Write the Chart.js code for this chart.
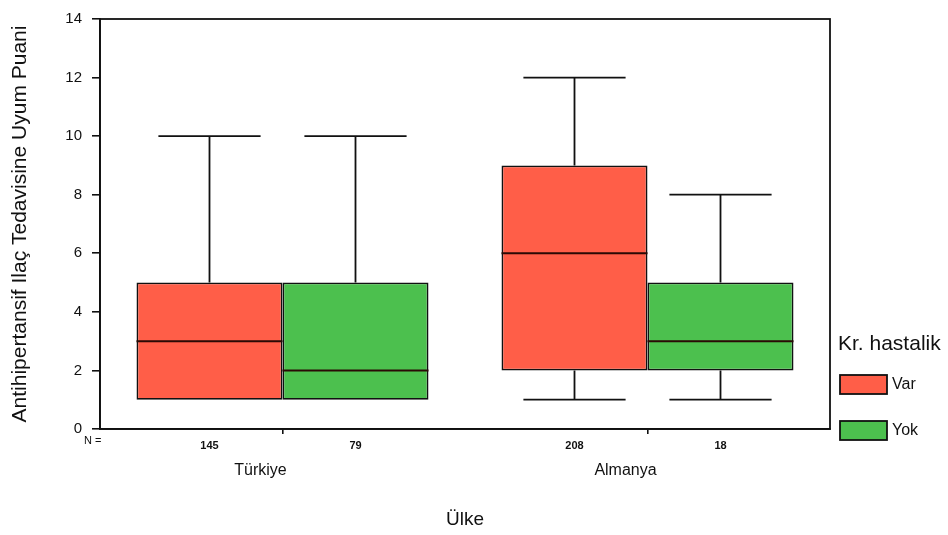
<!DOCTYPE html>
<html>
<head>
<meta charset="utf-8">
<script src="https://cdn.jsdelivr.net/npm/chart.js@4.4.1/dist/chart.umd.min.js"></script>
<style>
  html, body { margin: 0; padding: 0; background: #ffffff; }
  #wrap { width: 948px; height: 535px; }
</style>
</head>
<body>
<div id="wrap"><canvas id="c" width="948" height="535"></canvas></div>
<script>
// ---- data ----
const categories = ['Türkiye', 'Almanya'];
const seriesNames = ['Var', 'Yok'];
const varMin = [1, 1];
const varQ1  = [1, 2];
const varMed = [3, 6];
const varQ3  = [5, 9];
const varMax = [10, 12];
const yokMin = [1, 1];
const yokQ1  = [1, 2];
const yokMed = [2, 3];
const yokQ3  = [5, 5];
const yokMax = [10, 8];
const varN = [145, 208];
const yokN = [79, 18];
const yTicks = [0, 2, 4, 6, 8, 10, 12, 14];

const FONT = '"Liberation Sans", Arial, sans-serif';
const NARROW = '"Liberation Sans Narrow", "Liberation Sans", Arial, sans-serif';

const stats = [
  { min: varMin, q1: varQ1, med: varMed, q3: varQ3, max: varMax, n: varN },
  { min: yokMin, q1: yokQ1, med: yokMed, q3: yokQ3, max: yokMax, n: yokN }
];

const boxPlugin = {
  id: 'boxExtras',
  afterDatasetsDraw(chart) {
    const ctx = chart.ctx;
    const y = chart.scales.y;
    const area = chart.chartArea;
    ctx.save();
    stats.forEach((s, i) => {
      const meta = chart.getDatasetMeta(i);
      meta.data.forEach((el, j) => {
        const x = el.x, w = el.width;
        const cap = w * 0.7;
        ctx.strokeStyle = '#111';
        // whiskers
        ctx.lineWidth = 1.8;
        ctx.beginPath();
        ctx.moveTo(x, y.getPixelForValue(s.q3[j]));
        ctx.lineTo(x, y.getPixelForValue(s.max[j]));
        ctx.moveTo(x - cap / 2, y.getPixelForValue(s.max[j]));
        ctx.lineTo(x + cap / 2, y.getPixelForValue(s.max[j]));
        if (s.min[j] < s.q1[j]) {
          ctx.moveTo(x, y.getPixelForValue(s.q1[j]));
          ctx.lineTo(x, y.getPixelForValue(s.min[j]));
          ctx.moveTo(x - cap / 2, y.getPixelForValue(s.min[j]));
          ctx.lineTo(x + cap / 2, y.getPixelForValue(s.min[j]));
        }
        ctx.stroke();
        // median
        ctx.lineWidth = 2;
        ctx.strokeStyle = '#2a0a05';
        ctx.beginPath();
        ctx.moveTo(x - w / 2, y.getPixelForValue(s.med[j]));
        ctx.lineTo(x + w / 2, y.getPixelForValue(s.med[j]));
        ctx.stroke();
        // N labels
        ctx.fillStyle = '#111';
        ctx.font = 'bold 11px ' + NARROW;
        ctx.textAlign = 'center';
        ctx.textBaseline = 'middle';
        ctx.fillText(String(s.n[j]), x, area.bottom + 17);
      });
    });
    ctx.font = '11px ' + NARROW;
    ctx.textAlign = 'left';
    ctx.textBaseline = 'middle';
    ctx.fillStyle = '#111';
    ctx.fillText('N =', area.left - 16, area.bottom + 12);
    // frame
    ctx.strokeStyle = '#111';
    ctx.lineWidth = 1.8;
    ctx.strokeRect(area.left, area.top, area.right - area.left, area.bottom - area.top);
    // legend
    const lx = area.right + 10;
    ctx.fillStyle = '#111';
    ctx.font = '21px ' + FONT;
    ctx.textAlign = 'left';
    ctx.textBaseline = 'alphabetic';
    ctx.fillText('Kr. hastalik', lx - 2, area.top + 331);
    chart.data.datasets.forEach((ds, i) => {
      const by = area.top + 356 + i * 46;
      ctx.fillStyle = ds.backgroundColor;
      ctx.fillRect(lx, by, 47, 19);
      ctx.lineWidth = 1.8;
      ctx.strokeStyle = '#111';
      ctx.strokeRect(lx, by, 47, 19);
      ctx.fillStyle = '#111';
      ctx.font = '16px ' + FONT;
      ctx.textBaseline = 'middle';
      ctx.fillText(ds.label, lx + 52, by + 10);
      ctx.textBaseline = 'alphabetic';
    });
    ctx.restore();
  }
};

const chart = new Chart(document.getElementById('c'), {
  type: 'bar',
  data: {
    labels: categories,
    datasets: [
      {
        label: seriesNames[0],
        data: categories.map((c, j) => [varQ1[j], varQ3[j]]),
        backgroundColor: '#FF5E48',
        borderColor: '#111',
        borderWidth: 1.8,
        borderSkipped: false
      },
      {
        label: seriesNames[1],
        data: categories.map((c, j) => [yokQ1[j], yokQ3[j]]),
        backgroundColor: '#4CC04E',
        borderColor: '#111',
        borderWidth: 1.8,
        borderSkipped: false
      }
    ]
  },
  options: {
    responsive: false,
    animation: false,
    devicePixelRatio: 1,
    layout: { padding: { left: 0, right: 118, top: 16, bottom: 0 } },
    datasets: { bar: { categoryPercentage: 0.8, barPercentage: 1.0 } },
    plugins: {
      legend: { display: false },
      tooltip: { enabled: false },
      title: { display: false }
    },
    scales: {
      x: {
        offset: true,
        afterFit(scale) { scale.height = 106; },
        grid: {
          display: true, drawOnChartArea: false, drawTicks: true,
          tickLength: 5, offset: false, color: '#111', lineWidth: 1.6
        },
        border: { display: true, color: '#111', width: 1.8 },
        ticks: {
          color: '#111', font: { family: FONT, size: 16 }, padding: 27, labelOffset: -22
        },
        title: {
          display: true, text: 'Ülke', color: '#111',
          font: { family: FONT, size: 19 }, padding: { top: 0, bottom: 4 }
        }
      },
      y: {
        min: 0, max: 14,
        afterFit(scale) { scale.width = 100; },
        afterBuildTicks(scale) { scale.ticks = yTicks.map(v => ({ value: v })); },
        grid: {
          display: true, drawOnChartArea: false, drawTicks: true,
          tickLength: 8, color: '#111', lineWidth: 1.6
        },
        border: { display: true, color: '#111', width: 1.8 },
        ticks: {
          color: '#111', font: { family: FONT, size: 15 }, padding: 10
        },
        title: {
          display: true, text: 'Antihipertansif Ilaç Tedavisine Uyum Puani', color: '#111',
          font: { family: FONT, size: 21 }, padding: { top: 8, bottom: 0 }
        }
      }
    }
  },
  plugins: [boxPlugin]
});
</script>
</body>
</html>
